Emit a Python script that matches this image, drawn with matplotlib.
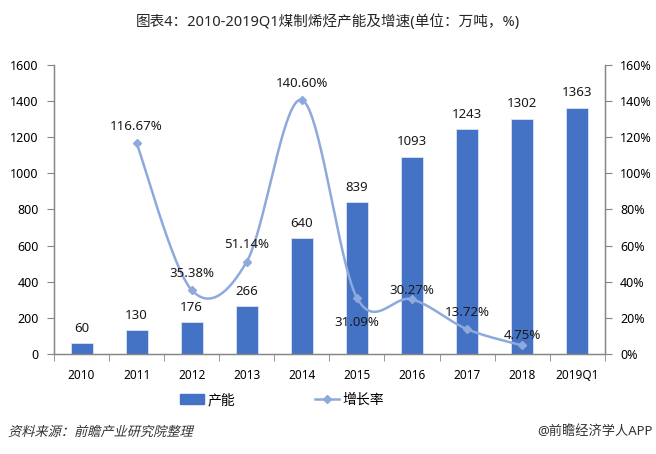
import numpy as np
import matplotlib
matplotlib.use("Agg")
import matplotlib.pyplot as plt
from matplotlib.lines import Line2D
from matplotlib.patches import Patch, PathPatch
from matplotlib.textpath import TextPath
from matplotlib.font_manager import FontProperties
from matplotlib.transforms import Affine2D

plt.rcParams["font.family"] = ["Noto Sans", "Noto Sans CJK SC", "DejaVu Sans"]

# ─── Data ─────────────────────────────────────────────────────────────────────
years = ["2010", "2011", "2012", "2013", "2014", "2015", "2016", "2017", "2018", "2019Q1"]
capacity = [60, 130, 176, 266, 640, 839, 1093, 1243, 1302, 1363]
growth = [116.67, 35.38, 51.14, 140.60, 31.09, 30.27, 13.72, 4.75]   # 2011..2018
growth_years = years[1:9]

# label offsets (points) for the growth labels
growth_offsets = [(0, 12), (0, 12), (0, 12), (0, 12), (0, -18), (0, 6), (0, 12), (0, 7)]

BAR_COLOR = "#4472C4"
LINE_COLOR = "#8EA9DB"
AXIS_COLOR = "#868686"

fig = plt.figure(figsize=(6.56, 4.54), dpi=100)
ax = fig.add_axes([0.0823, 0.2203, 0.8397, 0.6367])
ax2 = ax.twinx()

x = np.arange(len(years))
ax.bar(x, capacity, width=0.4, color=BAR_COLOR, edgecolor="#DCE4F2",
       linewidth=0.6, zorder=2)
for xi, v in zip(x, capacity):
    ax.annotate(str(v), (xi, v), xytext=(0, 6), textcoords="offset points",
                ha="center", va="bottom", fontsize=9.5, color="#1a1a1a")

ax.set_xlim(-0.5, len(years) - 0.5)
ax.set_ylim(0, 1600)
ax.set_yticks(range(0, 1601, 200))
ax2.set_ylim(0, 160)
ax2.set_yticks(range(0, 161, 20))
ax2.set_yticklabels([f"{t}%" for t in range(0, 161, 20)])

ax.set_xticks(x)
ax.set_xticklabels(years)
ax.set_xticks(np.arange(-0.5, len(years), 1), minor=True)
ax.tick_params(axis="x", which="major", length=0, pad=11, labelsize=8.5)
ax.tick_params(axis="x", which="minor", length=5, color=AXIS_COLOR, direction="out")
ax.tick_params(axis="y", length=5, color=AXIS_COLOR, labelsize=9, pad=6)
ax2.tick_params(axis="y", length=5, color=AXIS_COLOR, labelsize=9, pad=6)

for a in (ax, ax2):
    a.spines["top"].set_visible(False)
    for s in ("left", "right", "bottom"):
        a.spines[s].set_color(AXIS_COLOR)
        a.spines[s].set_linewidth(0.9)

# smooth curve through the growth points (Catmull-Rom in display space)
gx = np.array([years.index(y) for y in growth_years], dtype=float)
pts = ax2.transData.transform(np.column_stack([gx, growth]))
curve = []
for i in range(len(pts) - 1):
    p0 = pts[max(i - 1, 0)]
    p1 = pts[i]
    p2 = pts[i + 1]
    p3 = pts[min(i + 2, len(pts) - 1)]
    c1 = p1 + (p2 - p0) / 6.0
    c2 = p2 - (p3 - p1) / 6.0
    t = np.linspace(0, 1, 40)[:, None]
    seg = ((1 - t) ** 3) * p1 + 3 * ((1 - t) ** 2) * t * c1 + 3 * (1 - t) * t ** 2 * c2 + t ** 3 * p2
    curve.append(seg if i == 0 else seg[1:])
curve = ax2.transData.inverted().transform(np.vstack(curve))
ax2.plot(curve[:, 0], curve[:, 1], color=LINE_COLOR, linewidth=1.8, zorder=3)
ax2.plot(gx, growth, linestyle="none", marker="D", markersize=4.5,
         color=LINE_COLOR, zorder=4)
for xi, v, off in zip(gx, growth, growth_offsets):
    ax2.annotate(f"{v:.2f}%", (xi, v), xytext=off, textcoords="offset points",
                 ha="center", va="center", fontsize=9.5, color="#1a1a1a")

# title / legend / notes
fig.text(0.5, 0.951, "图表4：2010-2019Q1煤制烯烃产能及增速(单位：万吨，%)",
         ha="center", va="center", fontsize=10.5, color="#262626")

handles = [Patch(facecolor=BAR_COLOR, edgecolor=BAR_COLOR),
           Line2D([0], [0], color=LINE_COLOR, linewidth=1.8, marker="D", markersize=4)]
fig.legend(handles, ["产能", "增长率"], loc="center", bbox_to_anchor=(0.43, 0.118),
           ncol=2, frameon=False, fontsize=10, columnspacing=5.8,
           handlelength=1.7, handletextpad=0.25)

# source note, slanted like the original (CJK font has no italic face)
src = TextPath((0, 0), "资料来源：前瞻产业研究院整理", size=9.5,
               prop=FontProperties(family="Noto Sans CJK SC"))
src_tr = Affine2D().skew_deg(14, 0).scale(1 / 72).translate(0.08, 0.18) + fig.dpi_scale_trans
fig.add_artist(PathPatch(src, transform=src_tr, facecolor="#333333", lw=0))

fig.text(0.995, 0.049, "@前瞻经济学人APP", ha="right", va="center",
         fontsize=9.5, color="#333333")

fig.savefig("out.png", dpi=100)
